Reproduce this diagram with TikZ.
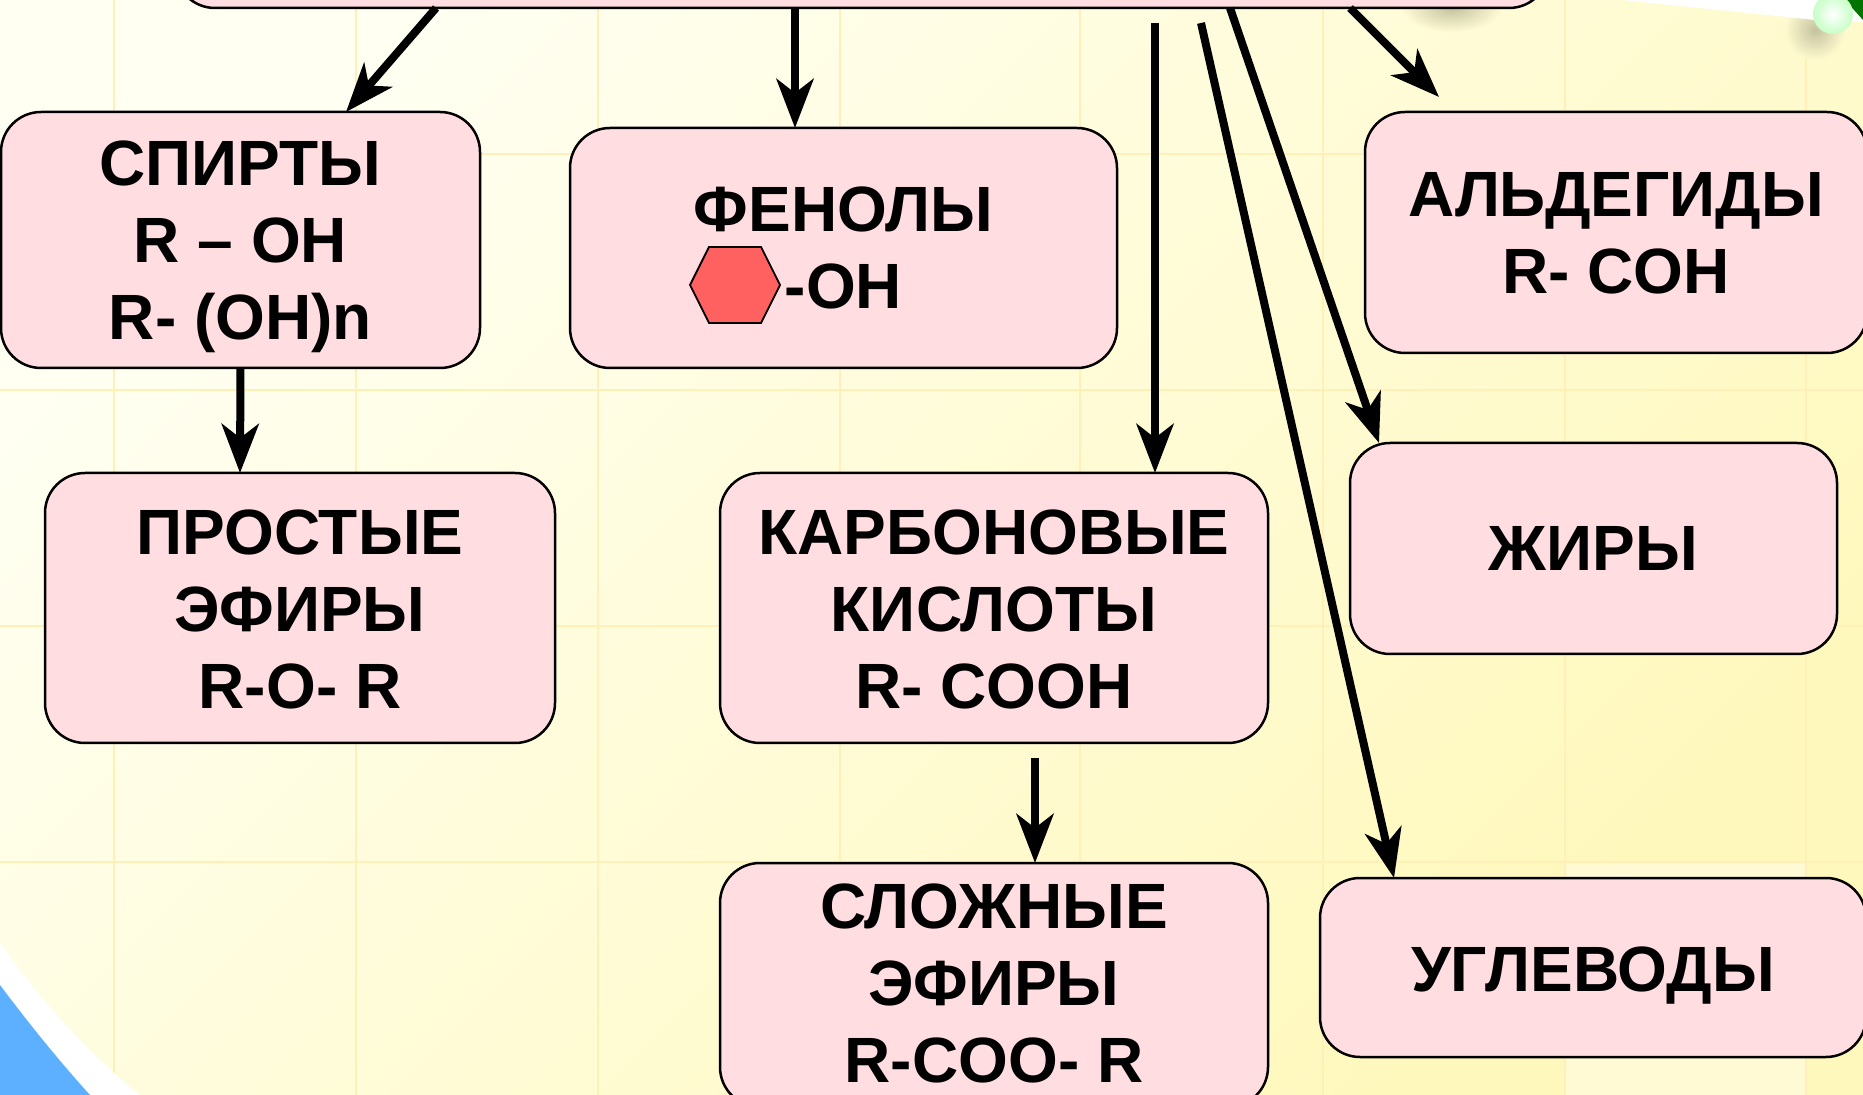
\documentclass[tikz,border=0pt]{standalone}
\usepackage{fontspec}
\setmainfont{Liberation Sans}
\usetikzlibrary{arrows.meta,calc}
\definecolor{boxpink}{HTML}{FFDDE1}
\definecolor{gridline}{HTML}{FFF0B8}
\definecolor{hexred}{HTML}{FF6060}
\definecolor{cornerblue}{HTML}{5CB0FF}
\definecolor{bga}{HTML}{FFFFF2}
\definecolor{bgb}{HTML}{FFFBD5}
\definecolor{bgc}{HTML}{FFF8BC}
\definecolor{shadowc}{HTML}{C4C2A0}
\newcommand\btx[2]{\raisebox{#1}[0pt][0pt]{\begin{tabular}[b]{@{}c@{}}#2\end{tabular}}}
\tikzset{
  pbox/.style={draw=black,fill=boxpink,line width=1.25pt,rounded corners=20pt,inner sep=0pt,outer sep=0pt,
    font=\fontsize{32}{38.5}\selectfont\bfseries},
  arr/.style={draw=black,line width=4pt,-{Stealth[length=24.5pt,width=18.5pt,inset=7pt]}},
  gl/.style={draw=gridline,line width=1.2pt},
}
\begin{document}
\begin{tikzpicture}[x=0.5pt,y=-0.5pt]
\useasboundingbox (0,0) rectangle (1863,1095);
\clip (0,0) rectangle (1863,1095);
% background
\shade[shading=axis,left color=bga,middle color=bgb,right color=bgc,shading angle=45] (0,0) rectangle (1863,1095);
\fill[white,opacity=.35] (1565,862) rectangle (1806,1095);
\foreach \gx in {114,356,598,840,1080,1323,1565,1806} \draw[gl] (\gx,0) -- (\gx,1095);
\foreach \gy in {154,390,626,862} \draw[gl] (0,\gy) -- (1863,\gy);
% corners
\fill[white] (0,943) .. controls (40,1000) and (90,1055) .. (140,1095) -- (0,1095) -- cycle;
\fill[cornerblue] (0,985) .. controls (30,1025) and (60,1062) .. (90,1095) -- (0,1095) -- cycle;
\shade[inner color=shadowc,outer color=bgb!70!bgc] (1815,30) circle[radius=30];
\fill[white] (1622,0) -- (1815,20) -- (1863,22) -- (1863,0) -- cycle;
\shade[inner color=shadowc,outer color=bgb] (1452,8) ellipse[x radius=50,y radius=24];
\fill[green!45!black] (1845,0) -- (1863,0) -- (1863,20) -- cycle;
\shade[inner color=white,outer color=green!22!white] (1833,14) circle[radius=20];
% boxes
\node[pbox,minimum width=687pt,minimum height=54pt] (top) at (862,-46) {};
\node[pbox,minimum width=239.5pt,minimum height=128pt] (spirt) at (240.5,240) {\btx{-50pt}{СПИРТЫ\\R – OH\\R- (OH)n}};
\node[pbox,minimum width=273.5pt,minimum height=120pt] (fenol) at (843.5,248) {\btx{-30.5pt}{ФЕНОЛЫ\\-OH}};
\node[pbox,minimum width=251pt,minimum height=120.5pt] (alde) at (1616,232.5) {\btx{-30.75pt}{АЛЬДЕГИДЫ\\R- COH}};
\node[pbox,minimum width=243.5pt,minimum height=105.5pt] (zhir) at (1593.5,548.5) {\btx{-11.25pt}{ЖИРЫ}};
\node[pbox,minimum width=255pt,minimum height=135pt] (prost) at (300,608) {\btx{-50.5pt}{ПРОСТЫЕ\\ЭФИРЫ\\R-O- R}};
\node[pbox,minimum width=274pt,minimum height=135pt] (karb) at (994,608) {\btx{-50.5pt}{КАРБОНОВЫЕ\\КИСЛОТЫ\\R- COOH}};
\node[pbox,minimum width=274pt,minimum height=122pt] (slozh) at (994,985) {\btx{-48.5pt}{СЛОЖНЫЕ\\ЭФИРЫ\\R-COO- R}};
\node[pbox,minimum width=273pt,minimum height=89.5pt] (ugl) at (1593,967.5) {\btx{-11.75pt}{УГЛЕВОДЫ}};
\draw[black,fill=hexred,line width=.9pt] (690,285) -- (709,247) -- (761,247) -- (780,285) -- (761,323) -- (709,323) -- cycle;
% free ends
\coordinate (kstart) at (1155,23);
\coordinate (ustart) at (1201,23);
\coordinate (aend) at (1439,97);
\coordinate (sstart) at (1035,758);
% connectors
\draw[arr] ($(top.south west)+(261,0)$) -- ($(spirt.north west)+(345,0)$);
\draw[arr] ($(top.south west)+(620,0)$) -- ($(fenol.north west)+(225,0)$);
\draw[arr] (kstart) -- ($(karb.north west)+(435,0)$);
\draw[arr] (ustart) -- ($(ugl.north west)+(74,0)$);
\draw[arr] ($(top.south west)+(1055,0)$) -- ($(zhir.north west)+(29,0)$);
\draw[arr] ($(top.south west)+(1175,0)$) -- (aend);
\draw[arr] (spirt.south) -- ($(prost.north west)+(195,0)$);
\draw[arr] (sstart) -- ($(slozh.north west)+(315,0)$);
\end{tikzpicture}
\end{document}
